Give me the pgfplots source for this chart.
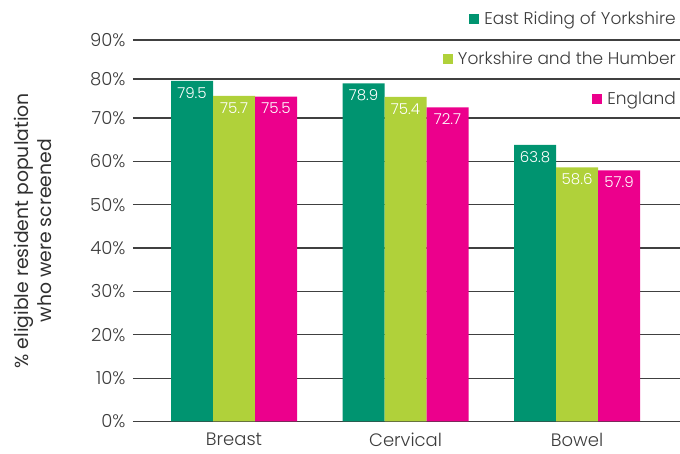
\documentclass[border=0pt]{standalone}
\usepackage{fontspec}
\setmainfont{Poppins Light}
\newfontfamily\regfont{Poppins}
\usepackage{pgfplots}
\pgfplotsset{compat=1.18}

\definecolor{cgreen}{RGB}{0,148,112}
\definecolor{clime}{RGB}{176,209,58}
\definecolor{cpink}{RGB}{236,0,140}
\definecolor{ctext}{RGB}{60,60,60}
\definecolor{cgrid}{RGB}{64,64,64}

\newcommand{\sq}[1]{\textcolor{#1}{\rule{10pt}{10pt}}\hspace{5pt}}

\begin{document}
\begin{tikzpicture}
\begin{axis}[
    scale only axis,
    width=547pt, height=381.5pt,
    % the reference squeezes the band above 70 %
    y coord trafo/.code={\pgfmathparse{#1>70 ? 70+(#1-70)*0.9 : #1}},
    y coord inv trafo/.code={\pgfmathparse{#1>70 ? 70+(#1-70)/0.9 : #1}},
    ybar=0pt, bar width=42pt,
    xmin=-0.589, xmax=2.60,
    ymin=0, ymax=90,
    xtick={0,1,2},
    xticklabels={Breast,Cervical,Bowel},
    ytick={0,10,20,30,40,50,60,70,80,90},
    yticklabels={0\%,10\%,20\%,30\%,40\%,50\%,60\%,70\%,80\%,90\%},
    major tick length=0pt,
    axis line style={draw=none},
    ymajorgrids,
    grid style={cgrid, line width=1.2pt},
    ticklabel style={font=\fontsize{18}{20}\selectfont, text=ctext},
    yticklabel style={xshift=-4pt},
    xticklabel style={yshift=-8pt},
    ylabel={\% eligible resident population\\who were screened},
    ylabel style={at={(axis description cs:-0.183,0.5)}, anchor=center,
      align=center, font=\regfont\fontsize{18.8}{23}\selectfont, text=ctext!80!black},
    point meta=rawy,
    nodes near coords,
    nodes near coords style={anchor=north, text=white, font=\fontsize{15}{16}\selectfont, yshift=-3pt,
      /pgf/number format/.cd, fixed, fixed zerofill, precision=1, assume math mode=true},
    legend image code/.code={},
    legend cell align=right,
    legend style={at={(axis description cs:1,1)}, anchor=north east, yshift=28pt, xshift=-4pt,
      draw=none, fill=none, inner sep=0pt, row sep=24pt, column sep=0pt,
      nodes={inner sep=0pt, text height=12pt, text depth=4pt},
      font=\fontsize{17}{18}\selectfont, text=ctext},
]
\addplot[fill=cgreen, draw=none] coordinates {(0,79.5) (1,78.9) (2,63.8)};
\addplot[fill=clime, draw=none] coordinates {(0,75.7) (1,75.4) (2,58.6)};
\addplot[fill=cpink, draw=none] coordinates {(0,75.5) (1,72.7) (2,57.9)};
\legend{{\sq{cgreen}East Riding of Yorkshire},
        {\sq{clime}Yorkshire and the Humber},
        {\sq{cpink}England}}
\coordinate (bl) at (rel axis cs:0,0);
\coordinate (tr) at (rel axis cs:1,1);
\end{axis}
\pgfresetboundingbox
\path[use as bounding box] ([shift={(-133pt,-32.5pt)}]bl) rectangle ([shift={(0pt,40pt)}]tr);
\end{tikzpicture}
\end{document}
